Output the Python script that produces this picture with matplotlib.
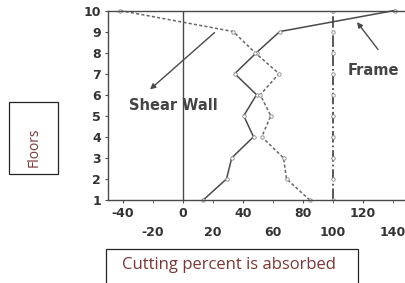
import matplotlib.pyplot as plt
from matplotlib.patches import Rectangle

# values
floors = [1, 2, 3, 4, 5, 6, 7, 8, 9, 10]
frame = [13.5, 29, 32.5, 47, 40.5, 49, 34.5, 49, 64.5, 141]
shear_wall = [84.5, 69, 67, 52.5, 58.5, 51.5, 64, 48, 33.5, -42]
total = [100, 100, 100, 100, 100, 100, 100, 100, 100, 100]
xticks_top = [-40, 0, 40, 80, 120]
xticks_low = [-20, 20, 60, 100, 140]

W, H = 406, 283
fig = plt.figure(figsize=(W / 100, H / 100), dpi=100)
ax = fig.add_axes([108 / W, 83 / H, 300 / W, 189.5 / H])

grey = "#4a4a4a"
tick_font = dict(fontweight="bold", fontfamily="DejaVu Sans", fontsize=9,
                 color="#333333")
note_font = dict(fontweight="bold", fontfamily="DejaVu Sans", fontsize=10.5,
                 color="#444444", ha="center", va="center")
marker = dict(marker="o", ms=2.5, mfc="white", mec="#888888", mew=0.6)

ax.axvline(0, color=grey, lw=1.0)
ax.plot(total, floors, color=grey, lw=1.3, ls="-.", **marker)
ax.plot(frame, floors, color=grey, lw=1.1, clip_on=False, **marker)
ax.plot(shear_wall, floors, color="#666666", lw=1.1, ls=(0, (2, 1.5)),
        clip_on=False, **marker)

ax.set_xlim(-50, 150)
ax.set_ylim(1, 10)
ax.set_yticks(floors)
ax.set_yticklabels([str(f) for f in floors], **tick_font)
ax.set_xticks(xticks_top)
ax.set_xticklabels([str(v) for v in xticks_top], **tick_font)
ax.set_xticks(xticks_low, minor=True)
ax.set_xticklabels([str(v) for v in xticks_low], minor=True, **tick_font)
ax.tick_params(axis="x", which="major", length=2, pad=3, color=grey)
ax.tick_params(axis="x", which="minor", length=2, pad=17, color=grey)
ax.tick_params(axis="y", length=2, pad=3, color=grey)
for s in ax.spines.values():
    s.set_color(grey)
    s.set_linewidth(1.0)

# arrows and labels
arrow = dict(arrowstyle="-|>", color=grey, lw=1.0, mutation_scale=8,
             shrinkA=0, shrinkB=0)
ax.annotate("", xy=(-22, 6.25), xytext=(21, 8.95), arrowprops=arrow)
ax.text(-6.5, 5.5, "Shear Wall", **note_font)
ax.annotate("", xy=(116, 9.45), xytext=(130, 8.15), arrowprops=arrow)
ax.text(127, 7.15, "Frame", **note_font)

# label boxes
label_color = "#7a3535"
fig.patches.append(Rectangle((9 / W, 1 - 174 / H), 49 / W, 72 / H,
                             transform=fig.transFigure, fill=False,
                             ec="#222222", lw=0.9))
fig.text(34 / W, 1 - 147 / H, "Floors", rotation=90, fontsize=10,
         fontfamily="Open Sans", color=label_color, ha="center", va="center")
fig.patches.append(Rectangle((106 / W, -10 / H), 252 / W, (283 - 249 + 10) / H,
                             transform=fig.transFigure, fill=False,
                             ec="#222222", lw=0.9))
fig.text(122 / W, 1 - 265 / H, "Cutting percent is absorbed", fontsize=12,
         fontfamily="Open Sans", color=label_color, ha="left", va="center")

fig.savefig("out.png", dpi=100)
